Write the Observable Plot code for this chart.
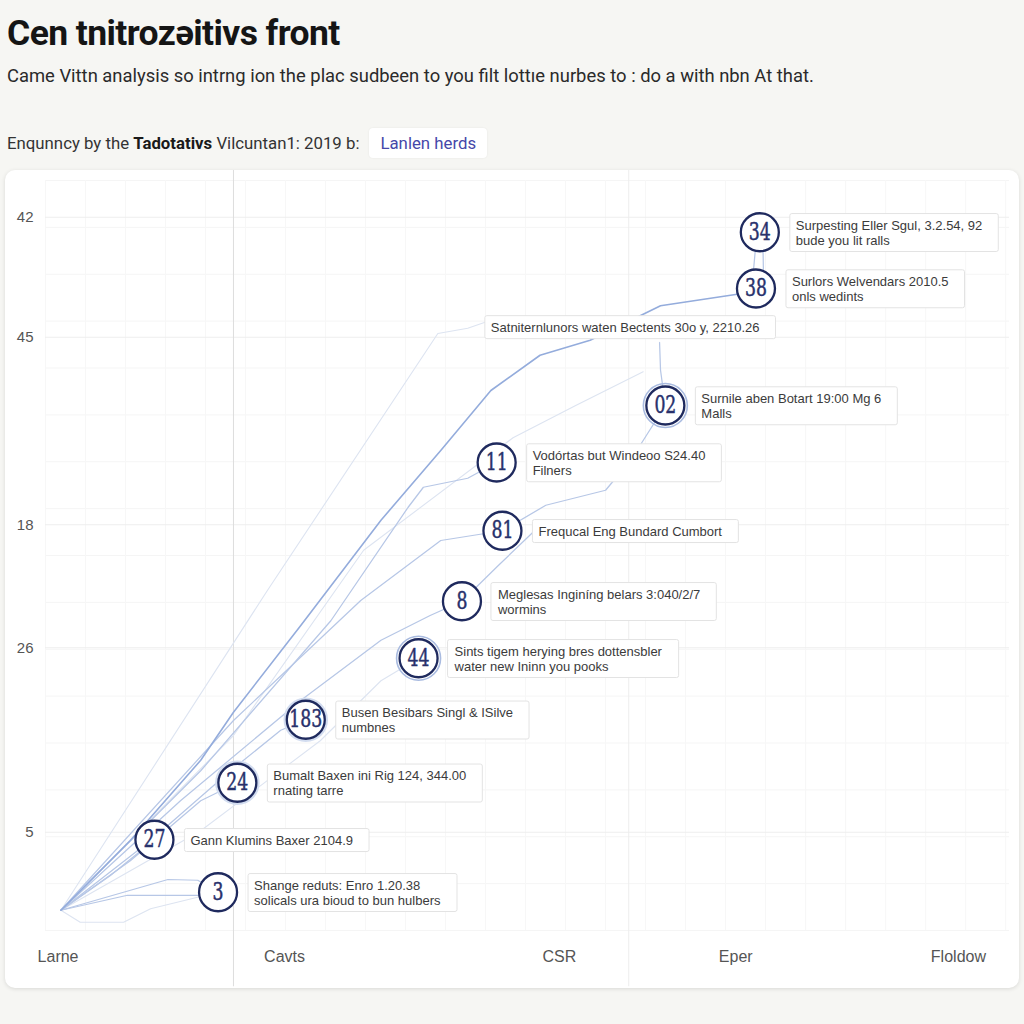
<!DOCTYPE html>
<html>
<head>
<meta charset="utf-8">
<script src="https://cdn.jsdelivr.net/npm/d3@7"></script>
<script src="https://cdn.jsdelivr.net/npm/@observablehq/plot@0.6"></script>
<style>
  html, body { margin: 0; padding: 0; }
  body { width: 1024px; height: 1024px; background: #f6f6f3; position: relative; overflow: hidden; font-family: Roboto, "Liberation Sans", Arial, sans-serif; }
  #title { position: absolute; left: 7px; top: 13px; font-size: 35.5px; line-height: 40px; font-weight: 700; color: #151515; letter-spacing: -0.6px; font-family: Roboto, Inter, sans-serif; }
  #subtitle { position: absolute; left: 7px; top: 64px; font-size: 18.4px; line-height: 24px; color: #2a2a2a; }
  #sub2 { position: absolute; left: 7px; top: 128px; font-size: 16.8px; line-height: 30px; color: #333; }
  #sub2 b { color: #1a1a1a; }
  #pill { display: inline-block; margin-left: 10px; padding: 0 11px; line-height: 30px; background: #fff; border-radius: 4px; color: #4547a9; box-shadow: 0 0 2px rgba(0,0,0,0.08); }
  #card { position: absolute; left: 5px; top: 170px; width: 1014px; height: 818px; background: #fff; border-radius: 10px; box-shadow: 0 1px 4px rgba(0,0,0,0.12); overflow: hidden; }
</style>
</head>
<body>
<div id="title">Cen tnitrozəitivs front</div>
<div id="subtitle">Came Vittn analysis so intrng ion the plac sudbeen to you filt lottıe nurbes to : do a with nbn At that.</div>
<div id="sub2">Enqunncy by the <b>Tadotativs</b> Vilcuntan1: 2019 b:<span id="pill">Lanlen herds</span></div>
<div id="card"></div>
<script>
// ---- axis ticks ----
const yTickPos = [95.1, 79.1, 54.1, 37.7, 13.1];
const yTickLabels = ["42", "45", "18", "26", "5"];
const xTickPos = [1.3, 24.8, 53.3, 71.6, 94.7];
const xTickLabels = ["Larne", "Cavts", "CSR", "Eper", "Floldow"];
const dividerX = [19.5, 60.5];

// ---- numbered nodes ----
const nodeLabels = ["34", "38", "02", "11", "81", "8", "44", "183", "24", "27", "3"];
const nodeX = [74.1, 73.7, 64.3, 46.8, 47.4, 43.2, 38.7, 27.0, 19.9, 11.3, 17.9];
const nodeY = [93.1, 85.6, 70.0, 62.4, 53.3, 43.9, 36.3, 28.1, 19.7, 12.1, 5.1];
const nodeCallouts = [
  "Surpesting Eller Sgul, 3.2.54, 92\nbude you lit ralls",
  "Surlors Welvendars 2010.5\nonls wedints",
  "Surnile aben Botart 19:00 Mg 6\nMalls",
  "Vodórtas but Windeoo S24.40\nFilners",
  "Frequcal Eng Bundard Cumbort",
  "Meglesas Inginíng belars 3:040/2/7\nwormins",
  "Sints tigem herying bres dottensbler\nwater new Ininn you pooks",
  "Busen Besibars Singl & ISilve\nnumbnes",
  "Bumalt Baxen ini Rig 124, 344.00\nrnating tarre",
  "Gann Klumins Baxer 2104.9",
  "Shange reduts: Enro 1.20.38\nsolicals ura bioud to bun hulbers"
];
const haloNodes = ["02", "44"];
const glowNodes = ["183", "24"];

// free-floating note
const noteText = ["Satniternlunors waten Bectents 30o y, 2210.26"];
const noteX = [46.2];
const noteY = [80.4];

// ---- line paths ([x, y]) ----
const mainPath = [[1.6,2.7],[8.8,12.0],[16.1,22.7],[19.5,29.1],[26.5,40.7],[34.8,54.7],[41.0,64.0],[46.2,72.0],[51.3,76.7],[56.5,78.7],[63.8,83.3],[72.1,84.9],[73.7,85.6]];
const path34a = [[73.3,86.0],[73.8,93.1]];
const path34b = [[74.5,86.0],[74.4,93.1]];
const pathNote = [[1.6,2.7],[23.0,45.3],[40.7,79.6],[43.8,80.3],[45.6,81.1]];
const path02up = [[64.3,70.0],[63.8,74.7],[63.7,78.4]];
const path11 = [[1.6,2.7],[16.1,21.3],[29.6,41.3],[37.6,56.4],[39.2,59.1],[43.8,60.3],[46.8,62.4]];
const path02 = [[1.6,2.7],[19.5,28.0],[32.7,44.0],[41.0,52.0],[47.4,53.3],[51.9,56.7],[58.1,58.7],[60.7,62.7],[64.3,70.0]];
const path8 = [[1.6,2.7],[14.0,17.3],[26.5,30.7],[34.8,38.7],[39.9,42.0],[43.2,43.9],[47.0,48.7],[51.3,54.0]];
const path44 = [[1.6,2.7],[16.1,13.3],[28.5,25.3],[34.8,33.3],[38.7,36.3]];
const path183 = [[1.6,2.7],[10.9,12.0],[19.2,21.3],[24.4,26.7],[27.0,28.1]];
const path24 = [[1.6,2.7],[8.8,9.3],[16.1,17.3],[19.9,19.7]];
const path27 = [[1.6,2.7],[6.7,7.3],[11.3,12.1]];
const path3 = [[1.6,2.7],[12.7,6.8],[15.8,6.7],[17.9,5.1]];
const path3b = [[1.6,2.7],[8.5,4.7],[15.8,4.7]];
const path3c = [[1.6,2.7],[3.6,1.1],[8.1,1.1],[10.9,2.9],[17.9,5.1]];
const pathFaint = [[1.6,2.7],[19.5,26.0],[33.0,50.7],[48.5,65.7],[55.0,70.0],[62.0,74.5]];

// ---- build tables ----
const nodes = nodeLabels.map((label, i) => ({label, x: nodeX[i], y: nodeY[i], callout: nodeCallouts[i]}));
const halos = nodes.filter(d => haloNodes.includes(d.label));
const glows = nodes.filter(d => glowNodes.includes(d.label));
const notes = noteText.map((t, i) => ({text: t, x: noteX[i], y: noteY[i]}));
const toRows = (name, pts) => pts.map(([x, y]) => ({series: name, x, y}));
const strongLines = toRows("main", mainPath);
const mediumLines = [
  ...toRows("34a", path34a), ...toRows("34b", path34b), ...toRows("02up", path02up),
  ...toRows("11", path11), ...toRows("02", path02), ...toRows("8", path8),
  ...toRows("183", path183), ...toRows("24", path24), ...toRows("27", path27),
  ...toRows("3", path3), ...toRows("3b", path3b)
];
const faintLines = [
  ...toRows("note", pathNote), ...toRows("44", path44), ...toRows("3c", path3c), ...toRows("faint", pathFaint)
];

const chart = Plot.plot({
  width: 1014,
  height: 818,
  marginLeft: 40,
  marginRight: 10,
  marginTop: 10,
  marginBottom: 58,
  style: {background: "transparent", fontFamily: "'Liberation Sans', Arial, sans-serif", overflow: "visible"},
  x: {domain: [0, 100], label: null},
  y: {domain: [0, 100], label: null},
  marks: [
    Plot.gridY(d3.range(0, 101, 6.25), {stroke: "#f5f5f5", strokeOpacity: 1}),
    Plot.gridX(d3.range(0, 101, 4.15), {stroke: "#f7f7f7", strokeOpacity: 1}),
    Plot.gridY(yTickPos, {stroke: "#eeeeee", strokeOpacity: 1}),
    Plot.ruleX(dividerX, {y1: -7.5, y2: 101.5, stroke: (d, i) => i === 0 ? "#dedede" : "#eeeeee"}),
    Plot.axisY(yTickPos, {tickFormat: d => yTickLabels[yTickPos.indexOf(d)], tickSize: 0, tickPadding: 12, fontSize: 15, fill: "#555", textAnchor: "end"}),
    Plot.axisX(xTickPos, {tickFormat: d => xTickLabels[xTickPos.indexOf(d)], tickSize: 0, tickPadding: 20, fontSize: 16, fill: "#555"}),
    Plot.line(faintLines, {x: "x", y: "y", z: "series", stroke: "#dde4f1", strokeWidth: 1.1, curve: "linear"}),
    Plot.line(mediumLines, {x: "x", y: "y", z: "series", stroke: "#b7c7e6", strokeWidth: 1.25, curve: "linear"}),
    Plot.line(strongLines, {x: "x", y: "y", z: "series", stroke: "#94acdc", strokeWidth: 1.6, curve: "linear"}),
    Plot.text(notes, {x: "x", y: "y", text: "text", textAnchor: "start", fontSize: 13, fill: "#3b3b3b", ariaDescription: "callout"}),
    Plot.text(nodes, {x: "x", y: "y", text: "callout", dx: 36, textAnchor: "start", fontSize: 13, lineHeight: 1.15, fill: "#3b3b3b", ariaDescription: "callout"}),
    Plot.dot(glows, {x: "x", y: "y", r: 21, fill: "none", stroke: "#d3ddf0", strokeWidth: 2.5}),
    Plot.dot(halos, {x: "x", y: "y", r: 22, fill: "none", stroke: "#a9bbe0", strokeWidth: 1.6}),
    Plot.dot(nodes, {x: "x", y: "y", r: 19, fill: "white", stroke: "#1f2a5e", strokeWidth: 2.3}),
    Plot.text(nodes, {x: "x", y: "y", text: "label", fontSize: 24, fontFamily: "'DejaVu Serif Condensed', 'DejaVu Serif', serif", fill: "#28316c", stroke: "#28316c", strokeWidth: 0.45, ariaDescription: "numbers"})
  ]
});

document.getElementById("card").appendChild(chart);

// condensed look for the numbers inside the circles
chart.querySelectorAll('g[aria-description="numbers"] text').forEach(t => {
  const tr = t.getAttribute("transform") || "";
  t.setAttribute("transform", tr + " scale(0.8,1)");
});

// white boxes behind the callout texts
chart.querySelectorAll('g[aria-description="callout"] text').forEach(t => {
  const bb = t.getBBox();
  const r = document.createElementNS("http://www.w3.org/2000/svg", "rect");
  r.setAttribute("x", bb.x - 6);
  r.setAttribute("y", bb.y - 4);
  r.setAttribute("width", bb.width + 22);
  r.setAttribute("height", bb.height + 8);
  r.setAttribute("rx", 2);
  r.setAttribute("fill", "#fff");
  r.setAttribute("stroke", "#e3e3e3");
  r.setAttribute("stroke-width", 1);
  if (t.getAttribute("transform")) r.setAttribute("transform", t.getAttribute("transform"));
  t.parentNode.insertBefore(r, t);
});
</script>
</body>
</html>
